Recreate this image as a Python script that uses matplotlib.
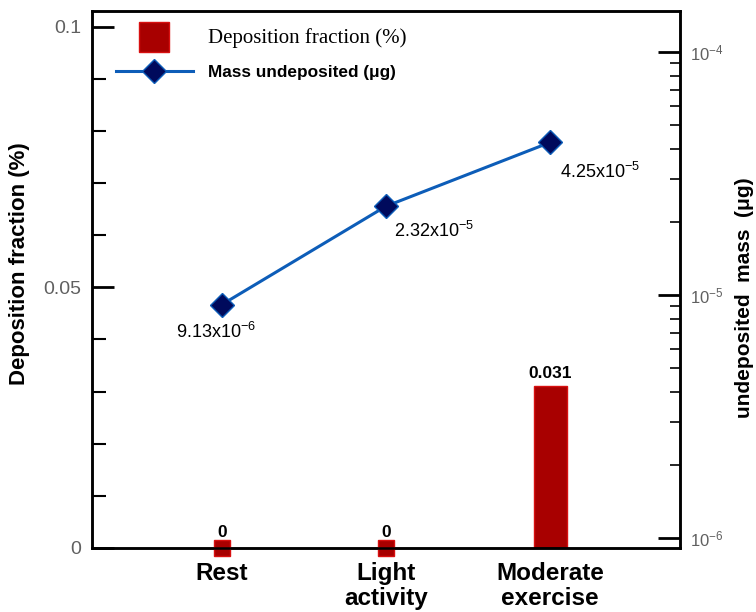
import matplotlib
matplotlib.use("Agg")
import matplotlib.pyplot as plt
from matplotlib.lines import Line2D
from matplotlib.font_manager import FontProperties
from matplotlib.ticker import FixedLocator, MultipleLocator, LogLocator, NullFormatter

plt.rcParams['font.family'] = ['Liberation Sans', 'DejaVu Sans']
plt.rcParams['mathtext.default'] = 'regular'

# Data
categories = ["Rest", "Light\nactivity", "Moderate\nexercise"]
deposition_fraction = [0.0, 0.0, 0.031]          # %
mass_undeposited = [9.13e-6, 2.32e-5, 4.25e-5]    # µg
deposition_labels = ["0", "0", "0.031"]
mass_labels = ["9.13x10$^{-6}$", "2.32x10$^{-5}$", "4.25x10$^{-5}$"]

x = [1, 2, 3]
bar_red = "#a80000"
bar_edge = "#d81010"
line_blue = "#0d5db8"
diamond_face = "#000a5c"
tick_gray = "#606060"

fig = plt.figure(figsize=(7.56, 6.12), dpi=100)
ax = fig.add_axes([0.1217, 0.1046, 0.7778, 0.8774])
ax2 = ax.twinx()

# Bars (deposition fraction) on the left axis
for xi, v in zip(x, deposition_fraction):
    if v > 0:
        ax.bar(xi, v, width=0.2, color=bar_red, edgecolor=bar_edge, linewidth=1, zorder=2)
    else:
        ax.plot(xi, v, marker="s", markersize=11.5, color=bar_red,
                markeredgecolor=bar_edge, clip_on=False, zorder=5)

for xi, v, lab in zip(x, deposition_fraction, deposition_labels):
    ax.annotate(lab, (xi, v), xytext=(0, 4 if v > 0 else 6), textcoords="offset points",
                ha="center", va="bottom", fontsize=12.5, fontweight="bold")

ax.set_xlim(0.21, 3.79)
ax.set_ylim(0, 0.103)
ax.set_xticks(x)
ax.set_xticklabels(categories, fontsize=17.5, fontweight="bold", linespacing=1.12)
ax.tick_params(axis="x", length=0, pad=10)

ax.yaxis.set_major_locator(FixedLocator([0, 0.05, 0.1]))
ax.set_yticklabels(["0", "0.05", "0.1"])
ax.yaxis.set_minor_locator(MultipleLocator(0.01))
ax.tick_params(axis="y", which="major", direction="in", length=16, width=2,
               labelsize=14, labelcolor=tick_gray, pad=8)
ax.tick_params(axis="y", which="minor", direction="in", length=10, width=1.5)
ax.set_ylabel("Deposition fraction (%)", fontsize=16, fontweight="bold")
ax.yaxis.set_label_coords(-0.105, 0.53)

# Line (undeposited mass) on the right log axis
ax2.set_yscale("log")
ax2.plot(x, mass_undeposited, color=line_blue, linewidth=2.2, marker="D",
         markersize=12.5, markerfacecolor=diamond_face, markeredgecolor=line_blue,
         markeredgewidth=1, zorder=4)
ax2.set_ylim(9.1e-7, 1.475e-4)
ax2.yaxis.set_major_locator(LogLocator(base=10, numticks=10))
ax2.yaxis.set_minor_locator(LogLocator(base=10, subs=range(2, 10), numticks=20))
ax2.yaxis.set_minor_formatter(NullFormatter())
ax2.tick_params(axis="y", which="major", direction="in", length=16, width=2,
                labelsize=12, labelcolor=tick_gray, pad=7)
ax2.tick_params(axis="y", which="minor", direction="in", length=7, width=1.2)
ax2.set_ylabel("undeposited  mass  (μg)", fontsize=15, fontweight="bold")
ax2.yaxis.set_label_coords(1.094, 0.467)

offsets = [(-4, -20, "center"), (6, -18, "left"), (7, -21, "left")]
for xi, v, lab, (dx, dy, ha) in zip(x, mass_undeposited, mass_labels, offsets):
    ax2.annotate(lab, (xi, v), xytext=(dx, dy), textcoords="offset points",
                 ha=ha, va="center", fontsize=13)

for a in (ax, ax2):
    for s in a.spines.values():
        s.set_linewidth(1.8)

# Legend
handles = [
    Line2D([], [], linestyle="none", marker="s", markersize=21, color=bar_red,
           markeredgecolor=bar_edge),
    Line2D([], [], color=line_blue, linewidth=2.2, marker="D", markersize=12.5,
           markerfacecolor=diamond_face, markeredgecolor=line_blue),
]
leg = ax2.legend(handles, ["Deposition fraction (%)", "Mass undeposited (μg)"],
                 loc="upper left", bbox_to_anchor=(0.041, 0.968), frameon=False,
                 borderpad=0, borderaxespad=0, handlelength=4.6, handletextpad=0.9,
                 labelspacing=1.0, fontsize=12)
texts = leg.get_texts()
texts[0].set_fontproperties(FontProperties(family="Liberation Serif", size=15))
texts[1].set_fontproperties(FontProperties(family="Liberation Sans", size=12.4, weight="bold"))

fig.savefig("out.png", dpi=100, facecolor="white")
